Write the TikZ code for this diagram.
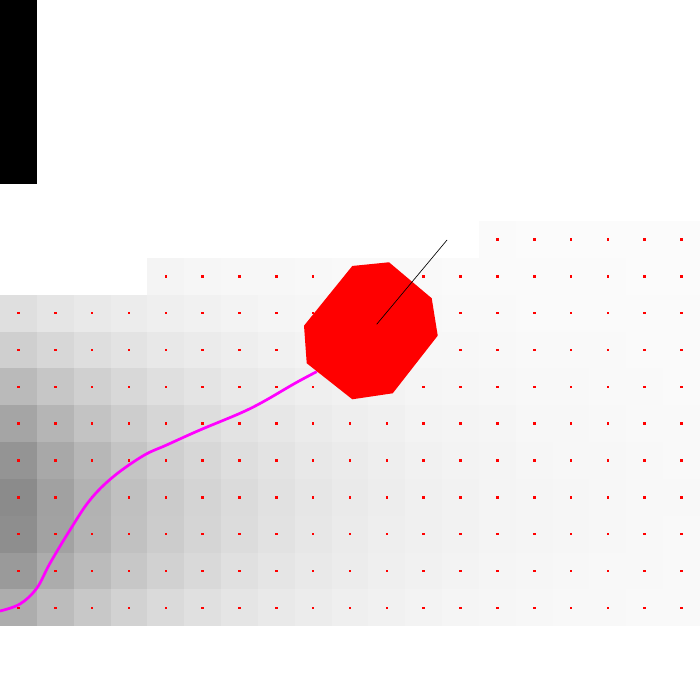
\documentclass[tikz,border=0pt]{standalone}
\usepackage{tikz}

\definecolor{trackpink}{RGB}{255,0,255}
\definecolor{robotred}{RGB}{255,0,0}

\begin{document}
\begin{tikzpicture}[
  x=1cm, y=1cm,
  wall/.style={fill=black},
  probe/.style={fill=robotred},
  track/.style={draw=trackpink, line width=2.1pt},
  robot/.style={fill=robotred},
  heading/.style={draw=black, line width=0.5pt}
]
\useasboundingbox (0,0) rectangle (19,19);
% obstacle
\fill[wall] (0,14) rectangle (1,19);
% cost grid with sample points
\foreach \r in {6,...,16} {
  \pgfmathtruncatemacro\cstart{\r==6 ? 13 : (\r==7 ? 4 : 0)}
  \foreach \c in {\cstart,...,18} {
    \pgfmathsetmacro\lum{1-(4+112*exp(-0.21*\c-(\r-13.3)*(\r-13.3)/20))/255}
    \definecolor{cellgray}{gray}{\lum}
    \fill[cellgray] (\c,18-\r) rectangle ++(1,1);
    \fill[probe] (\c+0.465,18.465-\r) rectangle ++(0.07,0.07);
  }
}
% travelled path
\draw[track] plot[smooth, tension=0.6] coordinates {
  (0,2.416) (0.543,2.606) (0.996,3.032) (1.357,3.711) (1.900,4.615)
  (2.443,5.429) (3.075,6.061) (3.890,6.631) (4.525,6.922) (5.429,7.329)
  (6.515,7.782) (7.147,8.097) (8.008,8.597) (8.597,8.912)};
% robot footprint
\fill[robot] (9.563,11.781) -- (10.559,11.881) -- (11.718,10.904) -- (11.881,9.889)
  -- (10.660,8.325) -- (9.563,8.162) -- (8.325,9.140) -- (8.252,10.160) -- cycle;
\coordinate (centre) at (10.225,10.198);
\coordinate (ahead) at (12.134,12.486);
\draw[heading] (centre) -- (ahead);
\end{tikzpicture}
\end{document}
